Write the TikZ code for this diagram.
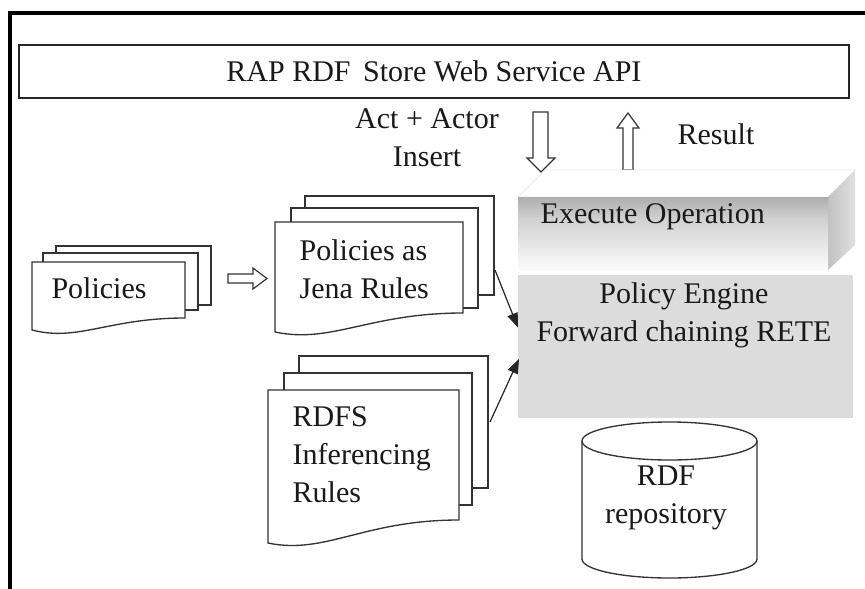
\documentclass[tikz,border=0pt]{standalone}
\usepackage{fontspec}
\setmainfont{Liberation Serif}
\usetikzlibrary{arrows.meta,calc}

\definecolor{inkgray}{HTML}{333333}
\definecolor{enginegray}{HTML}{DCDCDC}

% front face of the execute block: dark at the top edge, fading to white below
\pgfdeclareverticalshading{execshade}{100bp}{color(0bp)=(white); color(22bp)=(white); color(60bp)=(black!18); color(100bp)=(black!55)}

% one sheet of a document stack: #1 left, #2 top, #3 right, #4 right bottom, #5 left bottom
\newcommand{\docsheet}[5]{%
  \filldraw[sheet] (#1,#2) -- (#3,#2) -- (#3,#4)
    .. controls ({#1+0.5*(#3-#1)},#4) and ({#1+0.3*(#3-#1)},{#5+12}) .. (#1,#5) -- cycle;}
\newcommand{\flatsheet}[4]{%
  \filldraw[sheet] (#1,#2) rectangle (#3,#4);}

\begin{document}
\begin{tikzpicture}[x=0.75pt,y=-0.75pt,
  every node/.style={font=\fontsize{22.5}{28.5}\selectfont, text=black!90},
  sheet/.style={draw=inkgray, fill=white, line width=1pt},
  hollow/.style={draw=inkgray, fill=white, line width=0.9pt, line join=miter},
  feed/.style={draw=black!85, line width=0.9pt, -{Triangle[length=11pt,width=8pt]}}]

\useasboundingbox (0,0) rectangle (865,589);
\fill[white] (0,0) rectangle (865,589);

% outer frame (runs off the right and bottom edges)
\draw[line width=2.3pt] (865,13) -- (10,13) -- (10,589);

% web service API bar
\node (api) [draw=black!85, line width=1.4pt, anchor=north west, inner sep=0,
  minimum width=622.5pt, minimum height=39.75pt] at (18,44) {};
\node at (api.center) {RAP RDF\, Store Web Service API};

% request / result labels
\node (act) [align=center] at (427,138) {Act + Actor\\Insert};
\node (result) at (716,134) {Result};

% request arrow (down) and result arrow (up)
\coordinate (req) at (541,112);
\coordinate (res) at (628,170);
\draw[hollow] ($(req)+(-8,0)$) -- ($(req)+(7,0)$) -- ($(req)+(7,46)$) -- ($(req)+(14,46)$)
  -- ($(req)+(0,60)$) -- ($(req)+(-14,46)$) -- ($(req)+(-8,46)$) -- cycle;
\draw[hollow] ($(res)+(-5,0)$) -- ($(res)+(5,0)$) -- ($(res)+(5,-42)$) -- ($(res)+(11,-42)$)
  -- ($(res)+(0,-57)$) -- ($(res)+(-11,-42)$) -- ($(res)+(-5,-42)$) -- cycle;

% execute operation block (3-D slab)
\draw[draw=black!8, fill=white, line width=0.6pt] (518,197) -- (545,170) -- (855,170) -- (828,197) -- cycle;
\shade[left color=black!24, right color=black!12] (828,197) -- (855,170) -- (855,245) -- (828,270) -- cycle;
\shade[shading=execshade] (518,197) rectangle (828,270);
\node (exec) [anchor=west] at (536,217) {Execute Operation};

% policy engine
\node (engine) [fill=enginegray, anchor=north west, inner sep=0,
  minimum width=251.25pt, minimum height=107.25pt] at (518,275) {};
\node (enginetext) [align=center] at (684,315) {Policy Engine\\Forward chaining RETE};

% RDF repository (cylinder)
\draw[draw=inkgray, fill=white, line width=1pt] (582,441) -- (582,559)
  arc[start angle=180, end angle=0, x radius=87.5, y radius=19] -- (757,441);
\draw[draw=inkgray, fill=white, line width=1pt] (669.5,441) ellipse [x radius=87.5, y radius=19];
\node (repo) [align=center] at (666,498) {RDF\\repository};

% policies stack
\flatsheet{56}{246}{211}{305}
\flatsheet{43}{253}{198}{310}
\docsheet{32}{262}{185}{318}{330}
\node (policies) at (99,288) {Policies};

% policies as Jena rules stack
\flatsheet{305}{196}{494}{295}
\flatsheet{291}{208}{478}{308}
\docsheet{275}{222}{463}{313}{332}
\node (jena) [align=left, anchor=west] at (295,269) {Policies as\\Jena Rules};

% RDFS inferencing rules stack
\flatsheet{299}{356}{488}{488}
\flatsheet{284}{373}{472}{505}
\docsheet{268}{390}{459}{520}{543}
\node (rdfs) [align=left, anchor=west] at (288,455) {RDFS\\Inferencing\\Rules};

% policies -> Jena rules conversion arrow
\coordinate (conv) at (228,278.5);
\draw[hollow] ($(conv)+(0,-4.5)$) -- ($(conv)+(25,-4.5)$) -- ($(conv)+(25,-10.5)$) -- ($(conv)+(39,0)$)
  -- ($(conv)+(25,10.5)$) -- ($(conv)+(25,4.5)$) -- ($(conv)+(0,4.5)$) -- cycle;

% rule sets feeding the engine
\coordinate (jenaout) at (495,270);
\coordinate (rdfsout) at (490,422);
\draw[feed] (jenaout) -- ($(engine.west)+(0,-19)$);
\draw[feed] (rdfsout) -- ($(engine.west)+(1,12)$);

\end{tikzpicture}
\end{document}
